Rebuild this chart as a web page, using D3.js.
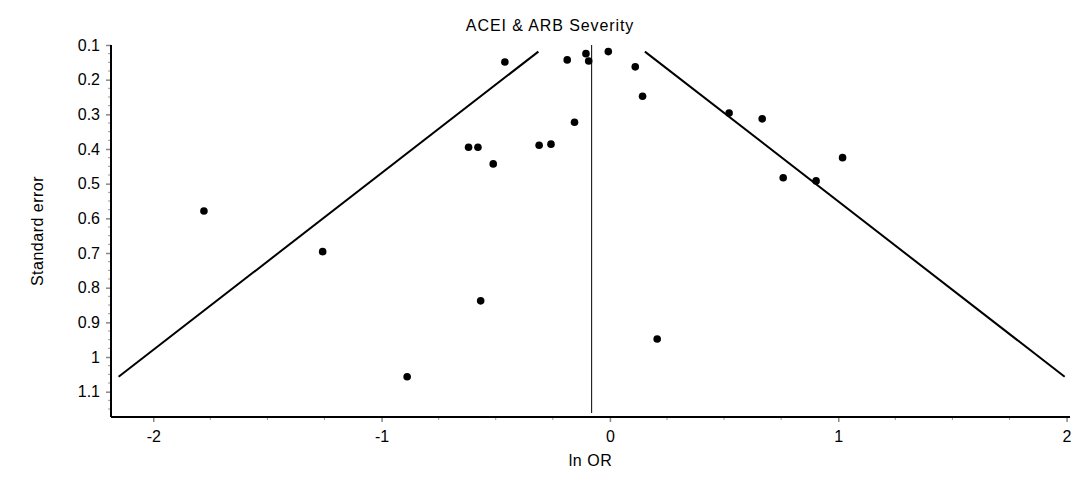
<!DOCTYPE html>
<html><head><meta charset="utf-8">
<script src="https://cdn.jsdelivr.net/npm/d3@7"></script>
<style>
html,body{margin:0;padding:0;background:#fff;}
text{font-family:"Liberation Sans",Arial,sans-serif;fill:#000;}
</style></head>
<body><svg id="chart" width="1092" height="484"></svg>
<script>
const title = "ACEI & ARB Severity";
const xLabel = "ln OR";
const yLabel = "Standard error";
const lnOR = [-0.460,-0.187,-0.105,-0.093,-0.007,0.111,0.143,-0.155,-0.619,-0.578,-0.511,-0.310,-0.258,0.522,0.667,1.019,0.759,0.903,-1.778,-1.258,-0.566,-0.888,0.207];
const stdErr = [0.149,0.143,0.125,0.146,0.119,0.163,0.248,0.323,0.395,0.395,0.443,0.389,0.386,0.296,0.313,0.425,0.483,0.492,0.579,0.696,0.838,1.057,0.948];
const pooled = -0.080;
const funnelSE = [0.119, 1.057];
const xTicks = [-2,-1,0,1,2];
const xTickLabels = ["-2","-1","0","1","2"];
const yTicks = [0.1,0.2,0.3,0.4,0.5,0.6,0.7,0.8,0.9,1,1.1];
const yTickLabels = ["0.1","0.2","0.3","0.4","0.5","0.6","0.7","0.8","0.9","1","1.1"];

const svg = d3.select("#chart");
const L=111, R=1070, T=45, B=417;
const x = d3.scaleLinear().domain([-2.185, 2.015]).range([L, R]);
const y = d3.scaleLinear().domain([0.1, 1.173]).range([T, B]);

const xMinor = d3.range(-2, 2.001, 0.25).filter(v => Math.abs(v - Math.round(v)) > 1e-6);
const yMinor = d3.range(0.1, 1.17, 0.025).filter(v => Math.abs(v*10 - Math.round(v*10)) > 1e-6);

const gx = svg.append("g").attr("transform", `translate(0,${B})`)
  .call(d3.axisBottom(x).tickValues(xTicks).tickFormat((d,i) => xTickLabels[i]).tickSize(5).tickPadding(9));
gx.select(".domain").remove();
gx.selectAll(".tick line").attr("stroke","#888").attr("stroke-width",1.5);
gx.selectAll(".tick text").style("font-size","16px");
svg.append("g").attr("transform", `translate(0,${B})`)
  .selectAll("line").data(xMinor).join("line")
  .attr("x1", d=>x(d)).attr("x2", d=>x(d)).attr("y1",0).attr("y2",3)
  .attr("stroke","#999").attr("stroke-width",1);

const gy = svg.append("g").attr("transform", `translate(${L},0)`)
  .call(d3.axisLeft(y).tickValues(yTicks).tickFormat((d,i) => yTickLabels[i]).tickSize(5).tickPadding(6));
gy.select(".domain").remove();
gy.selectAll(".tick line").attr("stroke","#888").attr("stroke-width",1.5);
gy.selectAll(".tick text").style("font-size","16px");
svg.append("g").attr("transform", `translate(${L},0)`)
  .selectAll("line").data(yMinor).join("line")
  .attr("x1",-3).attr("x2",0).attr("y1",d=>y(d)).attr("y2",d=>y(d))
  .attr("stroke","#999").attr("stroke-width",1);

svg.append("line").attr("x1",L).attr("x2",R).attr("y1",B).attr("y2",B).attr("stroke","#000").attr("stroke-width",2);
svg.append("line").attr("x1",L).attr("x2",L).attr("y1",T).attr("y2",B).attr("stroke","#000").attr("stroke-width",2);

const line = d3.line().x(d=>x(d[0])).y(d=>y(d[1]));
[-1,1].forEach(s => {
  svg.append("path").attr("d", line(funnelSE.map(se => [pooled + s*1.96*se, se])))
    .attr("fill","none").attr("stroke","#000").attr("stroke-width",2);
});
svg.append("line").attr("x1",x(pooled)).attr("x2",x(pooled)).attr("y1",y(0.1)).attr("y2",B-4)
  .attr("stroke","#000").attr("stroke-width",1);

svg.append("g").selectAll("circle").data(lnOR).join("circle")
  .attr("cx",(d)=>x(d)).attr("cy",(d,i)=>y(stdErr[i])).attr("r",3.8).attr("fill","#000");

svg.append("text").attr("x",550).attr("y",31).attr("text-anchor","middle").style("font-size","16px").style("letter-spacing","0.9px").text(title);
svg.append("text").attr("x",(L+R)/2).attr("y",466).attr("text-anchor","middle").style("font-size","16px").style("letter-spacing","0.5px").text(xLabel);
svg.append("text").attr("transform",`translate(43,${(T+B)/2}) rotate(-90)`).attr("text-anchor","middle").style("font-size","16px").style("letter-spacing","0.5px").text(yLabel);
</script></body></html>
